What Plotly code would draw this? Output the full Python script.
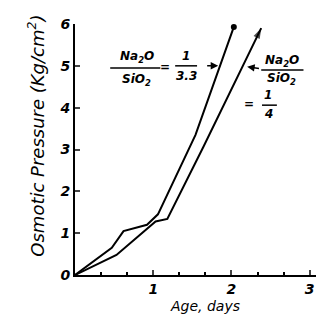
import plotly.graph_objects as go

# Data (Age in days, Osmotic pressure in kg/cm^2)
age_a = [0.0, 0.47, 0.62, 0.92, 1.06, 1.54, 2.03]
press_a = [0.0, 0.65, 1.05, 1.2, 1.45, 3.35, 5.93]
age_b = [0.0, 0.53, 1.03, 1.18, 1.64, 2.38]
press_b = [0.0, 0.48, 1.28, 1.34, 3.06, 5.9]

y_ticks = [0, 1, 2, 3, 4, 5, 6]
x_ticks = [1, 2, 3]

FONT = "DejaVu Sans"
fig = go.Figure()
fig.add_trace(go.Scatter(x=age_a, y=press_a, mode="lines", line=dict(color="black", width=2),
                         cliponaxis=False, showlegend=False))
fig.add_trace(go.Scatter(x=[age_a[-1]], y=[press_a[-1]], mode="markers",
                         marker=dict(color="black", size=6), cliponaxis=False, showlegend=False))
fig.add_trace(go.Scatter(x=age_b, y=press_b, mode="lines", line=dict(color="black", width=2),
                         cliponaxis=False, showlegend=False))
fig.add_trace(go.Scatter(x=age_b[-2:], y=press_b[-2:], mode="markers",
                         marker=dict(color="black", size=[0, 11], symbol="arrow",
                                     angleref="previous", line=dict(width=0)),
                         cliponaxis=False, showlegend=False))

tf = dict(family=FONT, size=14, color="black", weight="bold", style="italic")
fig.update_layout(
    width=322, height=320,
    margin=dict(l=75, r=6, t=24, b=45),
    paper_bgcolor="white", plot_bgcolor="white",
    xaxis=dict(range=[0, 3.08], tickvals=x_ticks, ticks="inside", ticklen=5, tickwidth=1.5,
               showline=True, linecolor="black", linewidth=2, showgrid=False, zeroline=False,
               tickfont=tf,
               minor=dict(dtick=1/3, tick0=0, ticks="inside", ticklen=3, tickcolor="black")),
    yaxis=dict(range=[0, 6], tickvals=y_ticks, ticks="inside", ticklen=5, tickwidth=1.5,
               showline=True, linecolor="black", linewidth=2, showgrid=False, zeroline=False,
               tickfont=tf),
)

af = dict(family=FONT, size=12, color="black", weight="bold", style="italic")
ann = [
    dict(x=0.79, y=5.2, text="Na<sub>2</sub>O"),
    dict(x=0.79, y=4.66, text="SiO<sub>2</sub>"),
    dict(x=1.15, y=4.98, text="="),
    dict(x=1.42, y=5.24, text="1"),
    dict(x=1.42, y=4.76, text="3.3"),
    dict(x=2.64, y=5.12, text="Na<sub>2</sub>O"),
    dict(x=2.64, y=4.68, text="SiO<sub>2</sub>"),
    dict(x=2.23, y=4.08, text="="),
    dict(x=2.47, y=4.3, text="1"),
    dict(x=2.47, y=3.84, text="4"),
]
for a in ann:
    fig.add_annotation(xref="x", yref="y", showarrow=False, font=af, **a)

# fraction bars
for x0, x1, y in [(0.45, 1.09, 4.95), (1.28, 1.56, 5.0), (2.38, 2.92, 4.9), (2.39, 2.58, 4.06)]:
    fig.add_shape(type="line", xref="x", yref="y", x0=x0, x1=x1, y0=y, y1=y,
                  line=dict(color="black", width=1.5))

# arrows pointing to curves
fig.add_annotation(x=1.83, y=5.0, ax=1.67, ay=5.0, xref="x", yref="y", axref="x", ayref="y",
                   text="", showarrow=True, arrowhead=2, arrowsize=1, arrowwidth=1.5,
                   arrowcolor="black")
fig.add_annotation(x=2.2, y=4.98, ax=2.37, ay=4.93, xref="x", yref="y", axref="x", ayref="y",
                   text="", showarrow=True, arrowhead=2, arrowsize=1, arrowwidth=1.5,
                   arrowcolor="black")

fig.add_annotation(x=-0.22, y=0.555, xref="paper", yref="paper",
                   text="Osmotic Pressure (Kg/cm<sup>2</sup>)",
                   textangle=-90, showarrow=False,
                   font=dict(family=FONT, size=18, color="black", style="italic"))
fig.add_annotation(x=0.54, y=-0.165, xref="paper", yref="paper", text="Age, days",
                   showarrow=False,
                   font=dict(family=FONT, size=14, color="black", style="italic"))

fig.write_html("out.html", config={"displayModeBar": False},
               post_script="document.body.style.margin='0';")
